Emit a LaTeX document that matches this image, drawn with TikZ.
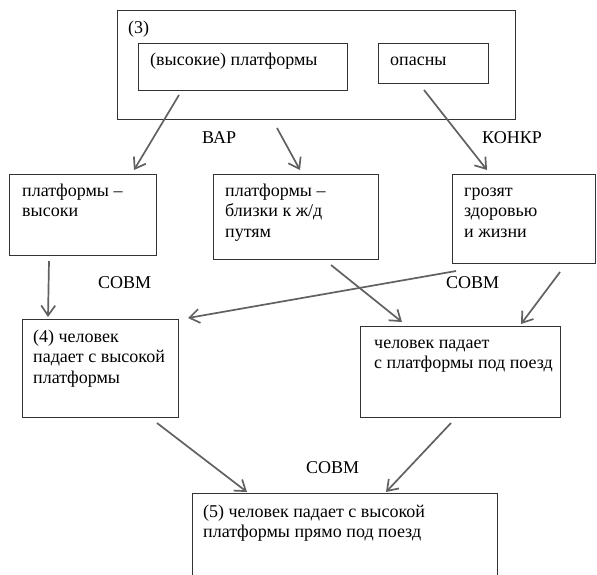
\documentclass[tikz,border=0pt]{standalone}
\usepackage{fontspec}
\setmainfont{Liberation Serif}
\usetikzlibrary{arrows.meta,calc}
\newcommand\linestack[1]{\begin{tabular}[t]{@{}l@{}}#1\end{tabular}}
\begin{document}
\begin{tikzpicture}[x=1pt,y=-1pt,
  box/.style={draw=black!80, line width=1pt, inner sep=0pt, anchor=north west},
  lbl/.style={anchor=base west, inner sep=0pt, font=\fontsize{18}{20.5}\selectfont},
  arr/.style={draw=black!62, line width=1.7pt, -{Straight Barb[length=10pt,width=14pt]}}]
\clip (0,0) rectangle (597,574);
\fill[white] (0,0) rectangle (597,574);

% frames
\node[box, minimum width=398pt, minimum height=109pt] (outer) at (117,10) {};
\node[box, minimum width=209pt, minimum height=47pt] (hi) at (138,43) {};
\node[box, minimum width=110pt, minimum height=40pt] (op) at (378,43) {};
\node[box, minimum width=147pt, minimum height=81pt] (b1) at (9,174) {};
\node[box, minimum width=165pt, minimum height=85pt] (b2) at (213,174) {};
\node[box, minimum width=143pt, minimum height=89pt] (b3) at (452,174) {};
\node[box, minimum width=156pt, minimum height=98pt] (b4) at (22,319) {};
\node[box, minimum width=200pt, minimum height=91pt] (b5) at (360,326) {};
\node[box, minimum width=305pt, minimum height=110pt] (b6) at (192,493) {};

% texts
\node[lbl] (t3) at (128,33) {(3)};
\node[lbl] (thi) at (150,65) {(высокие) платформы};
\node[lbl] (top) at (390,65) {опасны};
\node[lbl] (t1) at (22,196) {\linestack{платформы –\\высоки}};
\node[lbl] (t2) at (225,196) {\linestack{платформы –\\близки к ж/д\\путям}};
\node[lbl] (tb3) at (464,196) {\linestack{грозят\\здоровью\\и жизни}};
\node[lbl] (t4) at (33,342) {\linestack{(4) человек\\падает с высокой\\платформы}};
\node[lbl] (t5) at (374,348) {\linestack{человек падает\\с платформы под поезд}};
\node[lbl] (t6) at (203,517) {\linestack{(5) человек падает с высокой\\платформы прямо под поезд}};

% relation labels
\node[lbl] (var) at (202,143) {ВАР};
\node[lbl] (konkr) at (482,143) {КОНКР};
\node[lbl] (sovm1) at (98,288) {СОВМ};
\node[lbl] (sovm2) at (446,288) {СОВМ};
\node[lbl] (sovm3) at (306,473) {СОВМ};

% connectors
\draw[arr] ($(hi.south west)+(41,4)$) -- ($(b1.north east)+(-23,-4)$);
\draw[arr] ($(outer.south west)+(160,8)$) -- ($(b2.north west)+(87,-4)$);
\draw[arr] ($(op.south west)+(46,6)$) -- ($(b3.north west)+(35,-4)$);
\draw[arr] ($(b1.south west)+(40,5)$) -- ($(b4.north west)+(26,-2)$);
\draw[arr] ($(b3.south west)+(4,7)$) -- ($(b4.north east)+(9,-1)$);
\draw[arr] ($(b2.south west)+(118,5)$) -- ($(b5.north west)+(42,-4)$);
\draw[arr] ($(b3.south west)+(108,8)$) -- ($(b5.north west)+(161,-2)$);
\draw[arr] ($(b4.south west)+(135,5)$) -- ($(b6.north west)+(55,-1)$);
\draw[arr] ($(b5.south west)+(91,5)$) -- ($(b6.north west)+(194,-1)$);
\end{tikzpicture}
\end{document}
